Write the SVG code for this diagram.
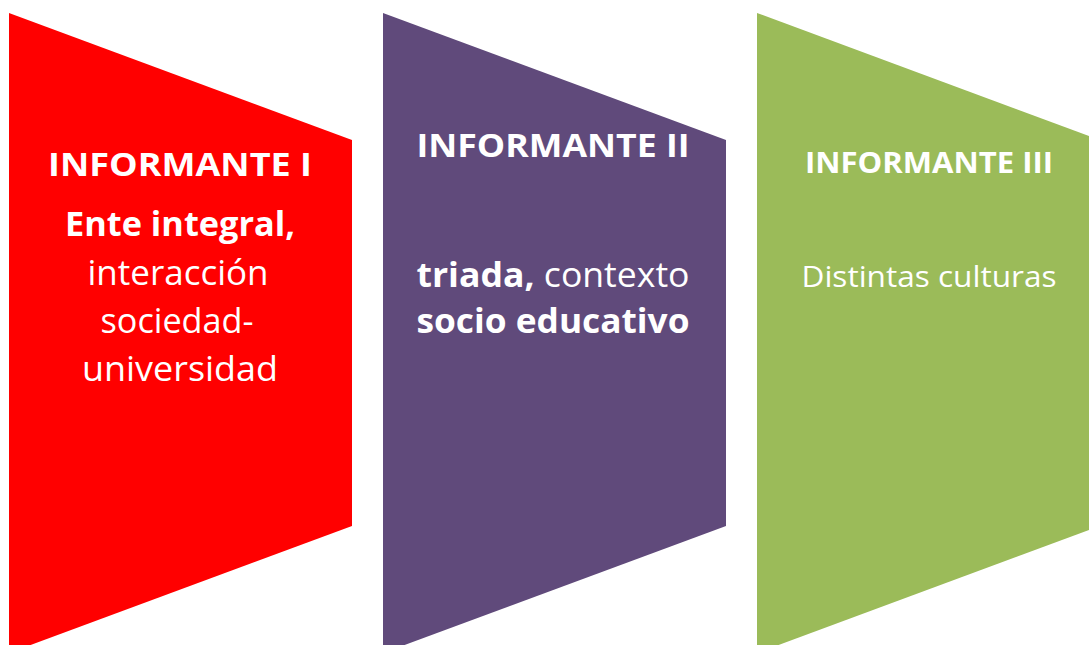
<svg xmlns="http://www.w3.org/2000/svg" width="1089" height="645" viewBox="0 0 1089 645">
<style>
text{font-family:"Open Sans","Noto Sans","Liberation Sans",sans-serif;fill:#fff;text-anchor:middle}
.t{font-weight:bold;font-size:32px}
.b{font-size:34px}
.bold{font-weight:bold}
</style>
<rect width="1089" height="645" fill="#fff"/>
<g id="node-informante-1">
<polygon points="9,13 352,140 352,526 9,653" fill="#ff0000"/>
<text class="t" x="180" y="176" textLength="264" lengthAdjust="spacingAndGlyphs">INFORMANTE I</text>
<text class="b bold" x="180" y="236" textLength="230" lengthAdjust="spacingAndGlyphs">Ente integral,</text>
<text class="b" x="178" y="285" textLength="181" lengthAdjust="spacingAndGlyphs">interacción</text>
<text class="b" x="177" y="333" textLength="153" lengthAdjust="spacingAndGlyphs">sociedad-</text>
<text class="b" x="180" y="381" textLength="196" lengthAdjust="spacingAndGlyphs">universidad</text>
</g>
<g id="node-informante-2">
<polygon points="383,13 726,140 726,526 383,653" fill="#604a7b"/>
<text class="t" x="553" y="157" textLength="273" lengthAdjust="spacingAndGlyphs">INFORMANTE II</text>
<text class="b" x="553" y="287" textLength="273" lengthAdjust="spacingAndGlyphs"><tspan class="bold">triada,</tspan> contexto</text>
<text class="b bold" x="553" y="333" textLength="273" lengthAdjust="spacingAndGlyphs">socio educativo</text>
</g>
<g id="node-informante-3">
<polygon points="757,13 1100,140 1100,526 757,653" fill="#9bbb59"/>
<text class="t" x="929" y="173" style="font-size:29px" textLength="248" lengthAdjust="spacingAndGlyphs">INFORMANTE III</text>
<text class="b" x="929" y="287" style="font-size:30px" textLength="255" lengthAdjust="spacingAndGlyphs">Distintas culturas</text>
</g>
<g id="connectors"></g>
</svg>
